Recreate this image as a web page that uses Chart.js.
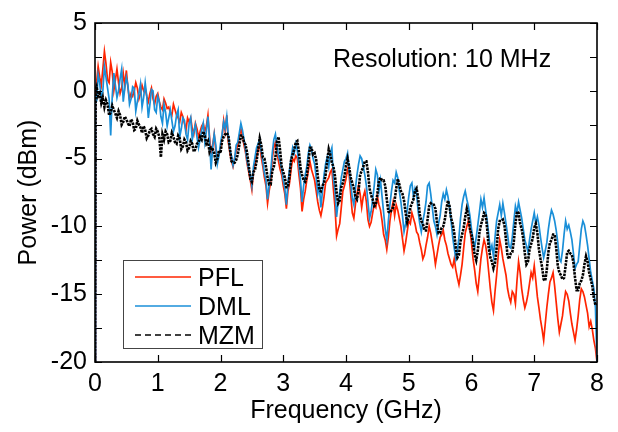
<!DOCTYPE html>
<html>
<head>
<meta charset="utf-8">
<script src="https://cdn.jsdelivr.net/npm/chart.js@4.4.0/dist/chart.umd.min.js"></script>
<style>
    body { margin: 0; background: #fff; }
    #caixa { width: 618px; height: 432px; }
</style>
</head>
<body>
<div id="caixa"><canvas id="graficoEspectro" width="618" height="432"></canvas></div>
<script>
// frequencias (GHz)
const frequencias = [0, 0.01,
    0.025, 0.05, 0.075, 0.1, 0.125, 0.15, 0.175, 0.2, 0.225, 0.25, 0.275, 0.3, 0.325, 0.35, 0.375, 0.4, 0.425, 0.45, 0.475, 0.5,
    0.525, 0.55, 0.575, 0.6, 0.625, 0.65, 0.675, 0.7, 0.725, 0.75, 0.775, 0.8, 0.825, 0.85, 0.875, 0.9, 0.925, 0.95, 0.975, 1,
    1.025, 1.05, 1.075, 1.1, 1.125, 1.15, 1.175, 1.2, 1.225, 1.25, 1.275, 1.3, 1.325, 1.35, 1.375, 1.4, 1.425, 1.45, 1.475, 1.5,
    1.525, 1.55, 1.575, 1.6, 1.625, 1.65, 1.675, 1.7, 1.725, 1.75, 1.775, 1.8, 1.825, 1.85, 1.875, 1.9, 1.925, 1.95, 1.975, 2,
    2.025, 2.05, 2.075, 2.1, 2.125, 2.15, 2.175, 2.2, 2.225, 2.25, 2.275, 2.3, 2.325, 2.35, 2.375, 2.4, 2.425, 2.45, 2.475, 2.5,
    2.525, 2.55, 2.575, 2.6, 2.625, 2.65, 2.675, 2.7, 2.725, 2.75, 2.775, 2.8, 2.825, 2.85, 2.875, 2.9, 2.925, 2.95, 2.975, 3,
    3.025, 3.05, 3.075, 3.1, 3.125, 3.15, 3.175, 3.2, 3.225, 3.25, 3.275, 3.3, 3.325, 3.35, 3.375, 3.4, 3.425, 3.45, 3.475, 3.5,
    3.525, 3.55, 3.575, 3.6, 3.625, 3.65, 3.675, 3.7, 3.725, 3.75, 3.775, 3.8, 3.825, 3.85, 3.875, 3.9, 3.925, 3.95, 3.975, 4,
    4.025, 4.05, 4.075, 4.1, 4.125, 4.15, 4.175, 4.2, 4.225, 4.25, 4.275, 4.3, 4.325, 4.35, 4.375, 4.4, 4.425, 4.45, 4.475, 4.5,
    4.525, 4.55, 4.575, 4.6, 4.625, 4.65, 4.675, 4.7, 4.725, 4.75, 4.775, 4.8, 4.825, 4.85, 4.875, 4.9, 4.925, 4.95, 4.975, 5,
    5.025, 5.05, 5.075, 5.1, 5.125, 5.15, 5.175, 5.2, 5.225, 5.25, 5.275, 5.3, 5.325, 5.35, 5.375, 5.4, 5.425, 5.45, 5.475, 5.5,
    5.525, 5.55, 5.575, 5.6, 5.625, 5.65, 5.675, 5.7, 5.725, 5.75, 5.775, 5.8, 5.825, 5.85, 5.875, 5.9, 5.925, 5.95, 5.975, 6,
    6.025, 6.05, 6.075, 6.1, 6.125, 6.15, 6.175, 6.2, 6.225, 6.25, 6.275, 6.3, 6.325, 6.35, 6.375, 6.4, 6.425, 6.45, 6.475, 6.5,
    6.525, 6.55, 6.575, 6.6, 6.625, 6.65, 6.675, 6.7, 6.725, 6.75, 6.775, 6.8, 6.825, 6.85, 6.875, 6.9, 6.925, 6.95, 6.975, 7,
    7.025, 7.05, 7.075, 7.1, 7.125, 7.15, 7.175, 7.2, 7.225, 7.25, 7.275, 7.3, 7.325, 7.35, 7.375, 7.4, 7.425, 7.45, 7.475, 7.5,
    7.525, 7.55, 7.575, 7.6, 7.625, 7.65, 7.675, 7.7, 7.725, 7.75, 7.775, 7.8, 7.825, 7.85, 7.875, 7.9, 7.925, 7.95, 7.975, 8];

// potencia PFL (dBm)
const potenciaPFL = [-20, 0.0,
    0.6, 1.8, 1.0, 0.4, 1.6, 2.9, 2.0, 0.8, 0.6, 2.1, 1.4, 0.0, 0.8, 1.6, 0.6, -0.2, 0.2, 1.3, 0.4, 1.5,
    0.2, -0.6, -0.2, -0.4, 0.0, 0.6, 0.2, -0.6, -0.2, 0.4, 0.0, 0.2, -0.4, -0.8, -0.2, 0.2, -0.6, -1.0, -0.4, -0.2,
    -0.8, -1.2, -1.4, -0.6, -0.9, -1.3, -1.2, -1.6, -1.8, -1.0, -1.4, -1.8, -2.0, -2.3, -1.6, -1.9, -2.4, -2.9, -2.0, -2.3,
    -2.0, -2.8, -3.2, -2.4, -2.8, -3.4, -3.0, -2.6, -2.4, -3.0, -2.6, -1.8, -3.4, -4.6, -4.0, -3.2, -4.4, -5.0, -4.6, -4.2,
    -3.4, -2.2, -3.0, -1.8, -3.8, -4.6, -5.2, -5.6, -5.0, -4.4, -4.0, -3.4, -2.8, -3.3, -4.0, -4.6, -5.4, -6.0, -6.6, -7.3,
    -6.0, -5.4, -4.8, -4.3, -4.0, -4.9, -5.6, -6.4, -7.0, -8.3, -7.4, -6.7, -5.0, -4.2, -3.8, -4.6, -5.2, -5.8, -6.2, -7.0,
    -7.6, -8.7, -7.4, -6.8, -5.8, -5.0, -5.2, -4.8, -5.0, -6.2, -7.2, -8.9, -8.0, -7.4, -6.6, -5.9, -5.2, -5.8, -6.2, -6.6,
    -7.4, -8.2, -8.8, -9.2, -8.6, -7.8, -6.8, -6.6, -6.4, -6.0, -5.8, -7.3, -8.6, -10.7, -10.2, -9.8, -8.6, -7.4, -7.0, -6.5,
    -5.8, -6.2, -7.6, -9.0, -9.4, -8.4, -7.6, -7.0, -7.6, -8.6, -7.8, -7.4, -8.2, -9.5, -10.0, -9.7, -9.0, -8.4, -8.6, -7.8,
    -8.4, -8.8, -9.6, -10.6, -11.0, -11.7, -10.8, -9.6, -8.8, -8.2, -9.2, -8.4, -8.8, -9.4, -10.0, -10.9, -11.8, -11.2, -10.4, -9.6,
    -9.8, -9.0, -9.4, -9.8, -10.4, -10.6, -11.2, -11.7, -12.4, -12.1, -11.4, -10.8, -10.0, -10.5, -11.2, -11.9, -12.8, -12.1, -11.4, -10.8,
    -10.6, -10.3, -11.0, -11.4, -12.0, -12.4, -12.8, -13.0, -12.4, -13.2, -13.8, -14.3, -13.6, -12.8, -11.6, -10.5, -10.0, -9.6, -10.2, -11.2,
    -12.4, -13.2, -14.2, -14.8, -13.6, -12.4, -11.6, -11.0, -11.4, -12.2, -13.4, -14.6, -15.6, -16.2, -14.8, -13.6, -12.2, -11.0, -11.6, -12.4,
    -13.0, -13.6, -14.6, -15.2, -15.6, -14.8, -15.0, -15.7, -14.0, -12.6, -13.4, -14.6, -15.4, -16.0, -15.6, -15.0, -14.2, -13.4, -13.8, -12.9,
    -14.0, -15.2, -16.0, -16.9, -17.6, -18.4, -17.2, -16.0, -15.0, -14.1, -13.8, -13.4, -14.4, -15.6, -16.8, -17.8, -17.2, -16.6, -15.6, -14.8,
    -15.0, -15.5, -16.4, -17.2, -17.8, -18.4, -17.6, -16.6, -15.4, -14.6, -14.8, -15.2, -15.8, -16.4, -17.4, -17.0, -17.6, -18.4, -19.0, -20];

// potencia DML (dBm)
const potenciaDML = [-20, -0.3,
    -0.8, 1.2, 0.6, -0.6, 0.0, 1.8, 1.0, 0.2, -0.6, -3.3, -0.4, 1.3, 0.4, -0.5, 0.0, 0.9, 1.6, -0.8, 0.2, 1.0,
    0.4, -1.0, -0.6, 0.3, 0.2, -1.5, -0.8, -0.2, 0.5, -1.2, -0.5, 0.6, -0.4, -2.0, -1.0, 0.1, 0.0, -1.4, -1.6, -0.4,
    -0.8, -1.9, -2.4, -1.0, -1.6, -2.6, -2.0, -1.4, -2.2, -3.0, -2.6, -1.8, -1.4, -3.4, -2.8, -2.0, -2.2, -3.2, -3.6, -2.4,
    -2.0, -3.6, -3.0, -2.5, -3.4, -4.2, -3.6, -2.9, -2.4, -3.8, -3.0, -1.9, -3.6, -5.8, -4.2, -3.2, -4.0, -5.4, -4.8, -3.9,
    -3.2, -2.3, -2.8, -1.9, -3.4, -4.4, -4.8, -5.5, -5.0, -4.0, -3.8, -3.1, -2.4, -2.9, -3.6, -4.4, -5.2, -5.8, -6.2, -7.0,
    -5.6, -4.9, -4.2, -3.9, -3.6, -4.5, -5.2, -6.1, -6.6, -8.0, -7.0, -6.0, -4.6, -3.6, -3.2, -4.1, -4.8, -5.2, -5.8, -6.6,
    -7.2, -8.4, -6.8, -5.8, -5.0, -4.2, -4.6, -3.9, -4.4, -5.5, -6.6, -8.2, -7.0, -6.2, -5.6, -4.6, -4.0, -4.3, -5.0, -5.4,
    -6.4, -7.6, -7.0, -8.6, -7.4, -6.2, -5.4, -4.9, -5.6, -4.6, -4.2, -6.5, -7.4, -9.3, -8.2, -7.5, -6.4, -5.8, -5.2, -5.0,
    -4.6, -5.9, -6.8, -7.9, -8.4, -7.2, -6.2, -5.4, -4.8, -5.0, -5.6, -6.2, -7.0, -8.2, -9.4, -8.9, -8.0, -7.0, -5.8, -6.2,
    -7.4, -6.6, -7.8, -9.0, -10.2, -11.0, -9.6, -8.4, -7.4, -6.6, -6.8, -6.0, -6.4, -7.4, -8.2, -9.2, -10.4, -9.8, -8.8, -7.8,
    -7.0, -6.8, -7.8, -7.2, -7.6, -8.9, -9.8, -10.4, -9.6, -9.0, -8.2, -7.0, -6.8, -7.6, -8.6, -9.6, -10.0, -10.6, -9.8, -9.2,
    -8.2, -7.6, -8.0, -7.3, -7.8, -8.6, -9.6, -10.8, -11.6, -12.4, -11.8, -10.8, -9.4, -8.4, -7.8, -7.4, -8.0, -8.5, -9.2, -10.2,
    -11.0, -11.6, -10.8, -9.9, -9.0, -8.0, -8.6, -7.9, -8.8, -9.6, -10.6, -11.8, -11.4, -12.2, -10.8, -9.6, -9.0, -8.4, -9.2, -8.3,
    -9.0, -9.8, -10.6, -11.5, -11.6, -10.8, -9.6, -8.5, -9.0, -8.2, -8.8, -9.4, -10.2, -11.0, -11.4, -11.9, -11.0, -10.2, -9.6, -9.0,
    -9.8, -9.3, -9.9, -10.8, -11.6, -12.3, -11.8, -11.2, -10.2, -9.4, -8.8, -9.1, -9.6, -10.3, -11.2, -12.4, -12.6, -11.8, -10.6, -9.6,
    -10.2, -9.9, -10.4, -11.0, -12.0, -13.1, -12.8, -12.6, -11.4, -10.2, -9.6, -9.9, -10.6, -11.4, -12.4, -13.4, -14.0, -14.6, -16.0, -20];

// potencia MZM (dBm)
const potenciaMZM = [-20, 0.1,
    0.3, -0.4, -0.2, -0.9, -0.5, -1.2, -0.7, -1.0, -1.8, -1.6, -1.1, -1.4, -1.7, -2.0, -1.5, -1.8, -2.5, -2.3, -1.9, -2.1,
    -2.4, -2.6, -2.1, -2.3, -2.9, -2.8, -2.2, -2.5, -2.7, -3.1, -2.6, -2.9, -3.5, -3.3, -2.9, -2.8, -3.2, -3.4, -2.8, -3.0,
    -3.4, -4.9, -3.2, -3.6, -3.0, -3.2, -3.8, -3.7, -3.1, -3.4, -3.8, -3.9, -3.3, -3.5, -4.3, -4.1, -3.6, -3.8, -4.4, -4.2,
    -3.7, -3.9, -4.5, -4.3, -3.9, -3.8, -3.4, -3.6, -3.0, -3.3, -3.9, -3.7, -4.5, -4.2, -4.3, -4.6, -5.3, -5.0, -4.4, -4.6,
    -3.7, -3.4, -3.2, -3.1, -3.3, -4.2, -5.2, -5.3, -5.3, -5.1, -4.7, -4.0, -3.3, -3.3, -3.8, -4.0, -4.6, -5.5, -6.5, -6.7,
    -6.0, -5.8, -5.2, -4.3, -3.5, -4.0, -4.9, -5.0, -5.6, -6.4, -6.9, -6.9, -5.9, -5.6, -4.9, -3.8, -3.4, -4.4, -5.6, -6.0,
    -6.4, -7.1, -7.1, -6.3, -5.1, -4.7, -4.3, -3.8, -3.7, -4.5, -5.7, -6.2, -6.6, -6.7, -6.3, -5.3, -4.2, -4.2, -4.7, -4.6,
    -5.1, -6.3, -7.3, -7.4, -7.0, -6.8, -6.2, -5.2, -4.3, -4.7, -5.3, -5.6, -6.3, -7.5, -8.3, -8.1, -7.1, -6.8, -6.3, -5.5,
    -5.0, -5.6, -6.4, -6.8, -7.2, -7.8, -8.0, -7.4, -6.2, -5.9, -5.6, -5.2, -5.2, -6.0, -7.2, -7.7, -8.0, -8.5, -8.4, -7.6,
    -6.6, -6.4, -6.6, -6.6, -7.0, -8.0, -8.9, -9.0, -8.8, -8.6, -8.1, -7.2, -6.5, -6.9, -7.4, -7.6, -8.1, -9.0, -9.7, -9.3,
    -8.6, -8.3, -8.0, -7.4, -7.2, -7.9, -9.1, -9.6, -9.8, -10.3, -10.3, -9.5, -8.5, -8.3, -8.4, -8.4, -8.7, -9.7, -10.5, -10.5,
    -10.1, -10.0, -9.5, -8.7, -8.1, -8.5, -9.4, -9.8, -10.5, -11.6, -12.3, -12.1, -11.1, -10.6, -10.1, -9.3, -8.7, -9.2, -10.2, -10.6,
    -11.2, -12.1, -12.5, -11.8, -10.5, -9.9, -9.5, -9.0, -9.1, -10.2, -11.6, -12.3, -12.6, -13.1, -12.7, -11.6, -10.2, -9.6, -9.6, -9.5,
    -9.9, -11.0, -12.2, -12.4, -12.0, -11.9, -11.1, -9.8, -8.9, -9.0, -9.8, -10.2, -10.9, -12.0, -12.8, -12.6, -11.7, -11.3, -10.9, -10.1,
    -9.8, -10.5, -11.7, -12.4, -13.0, -13.9, -14.0, -13.2, -11.9, -11.2, -11.0, -10.6, -10.6, -11.6, -12.9, -13.4, -13.6, -13.9, -13.8, -12.9,
    -11.9, -11.8, -12.0, -12.1, -12.7, -13.8, -14.7, -14.7, -14.2, -14.0, -13.6, -12.8, -12.2, -12.6, -13.4, -13.9, -14.4, -15.3, -15.8, -15.7];

// marcas dos eixos
const ticksX = [0, 1, 2, 3, 4, 5, 6, 7, 8];
const ticksY = [-20, -17.5, -15, -12.5, -10, -7.5, -5, -2.5, 0, 2.5, 5];

const nomes = ['PFL', 'DML', 'MZM'];
const cores = ['#ff2400', '#1a8fd8', '#000000'];
const anotacao = 'Resolution: 10 MHz';

const fonte = 'Arial, "Liberation Sans", sans-serif';
const tamanhoFonte = 25;

function montarPontos(valores) {
    return frequencias.map((f, i) => ({ x: f, y: valores[i] }));
}

// moldura, marcas internas, texto e legenda
const pluginMoldura = {
    id: 'moldura',
    afterDatasetsDraw(chart) {
        const { ctx, chartArea: a, scales } = chart;
        ctx.save();
        ctx.strokeStyle = '#000';
        ctx.lineWidth = 1.6;
        ctx.strokeRect(a.left, a.top, a.right - a.left, a.bottom - a.top);

        ctx.beginPath();
        ticksX.forEach(v => {
            const px = Math.round(scales.x.getPixelForValue(v)) + 0.5;
            ctx.moveTo(px, a.bottom); ctx.lineTo(px, a.bottom - 7);
            ctx.moveTo(px, a.top); ctx.lineTo(px, a.top + 7);
        });
        ticksY.forEach(v => {
            const py = Math.round(scales.y.getPixelForValue(v)) + 0.5;
            ctx.moveTo(a.left, py); ctx.lineTo(a.left + 7, py);
            ctx.moveTo(a.right, py); ctx.lineTo(a.right - 7, py);
        });
        ctx.lineWidth = 1.2;
        ctx.stroke();

        // anotacao
        ctx.fillStyle = '#000';
        ctx.font = tamanhoFonte + 'px ' + fonte;
        ctx.textBaseline = 'alphabetic';
        ctx.textAlign = 'left';
        ctx.fillText(anotacao, a.left + 238, a.top + 44);

        // legenda
        const lx = a.left + 28, ly = a.top + 237;
        ctx.fillStyle = '#fff';
        ctx.fillRect(lx, ly, 139, 88);
        ctx.strokeStyle = '#444';
        ctx.lineWidth = 1;
        ctx.strokeRect(lx + 0.5, ly + 0.5, 139, 88);
        nomes.forEach((nome, i) => {
            const yy = ly + 17 + i * 29;
            ctx.beginPath();
            ctx.strokeStyle = cores[i];
            ctx.lineWidth = 1.5;
            ctx.setLineDash(i === 2 ? [6, 4] : []);
            ctx.moveTo(lx + 12, yy);
            ctx.lineTo(lx + 68, yy);
            ctx.stroke();
            ctx.setLineDash([]);
            ctx.fillStyle = '#000';
            ctx.fillText(nome, lx + 75, yy + 9);
        });
        ctx.restore();
    }
};

const dados = {
    datasets: [
        { label: nomes[0], data: montarPontos(potenciaPFL), borderColor: cores[0], borderWidth: 1.7, order: 2 },
        { label: nomes[1], data: montarPontos(potenciaDML), borderColor: cores[1], borderWidth: 1.7, order: 1 },
        { label: nomes[2], data: montarPontos(potenciaMZM), borderColor: cores[2], borderWidth: 2.6, borderDash: [2.5, 1], order: 0 }
    ]
};

const config = {
    type: 'line',
    data: dados,
    options: {
        responsive: false,
        animation: false,
        layout: { padding: { left: 0, top: 15, right: 21, bottom: 0 } },
        elements: { point: { radius: 0 }, line: { tension: 0, fill: false } },
        plugins: { legend: { display: false }, tooltip: { enabled: false } },
        scales: {
            x: {
                type: 'linear', min: 0, max: 8,
                grid: { display: false, drawTicks: false },
                border: { display: false },
                afterBuildTicks: (s) => { s.ticks = ticksX.map(v => ({ value: v })); },
                afterFit: (s) => { s.height = 70; },
                ticks: { color: '#000', font: { size: tamanhoFonte, family: fonte }, padding: 7, maxRotation: 0 },
                title: { display: true, text: 'Frequency (GHz)', color: '#000', font: { size: tamanhoFonte, family: fonte }, padding: { top: 0, bottom: 6 } }
            },
            y: {
                type: 'linear', min: -20, max: 5,
                grid: { display: false, drawTicks: false },
                border: { display: false },
                afterBuildTicks: (s) => { s.ticks = ticksY.map(v => ({ value: v })); },
                afterFit: (s) => { s.width = 95; },
                ticks: {
                    color: '#000', font: { size: tamanhoFonte, family: fonte }, padding: 8,
                    callback: (v) => (v % 5 === 0 ? v : '')
                },
                title: { display: true, text: 'Power (dBm)', color: '#000', font: { size: tamanhoFonte, family: fonte }, padding: { top: 14, bottom: 0 } }
            }
        }
    },
    plugins: [pluginMoldura]
};

let meuGrafico = new Chart(document.getElementById('graficoEspectro'), config);
</script>
</body>
</html>
